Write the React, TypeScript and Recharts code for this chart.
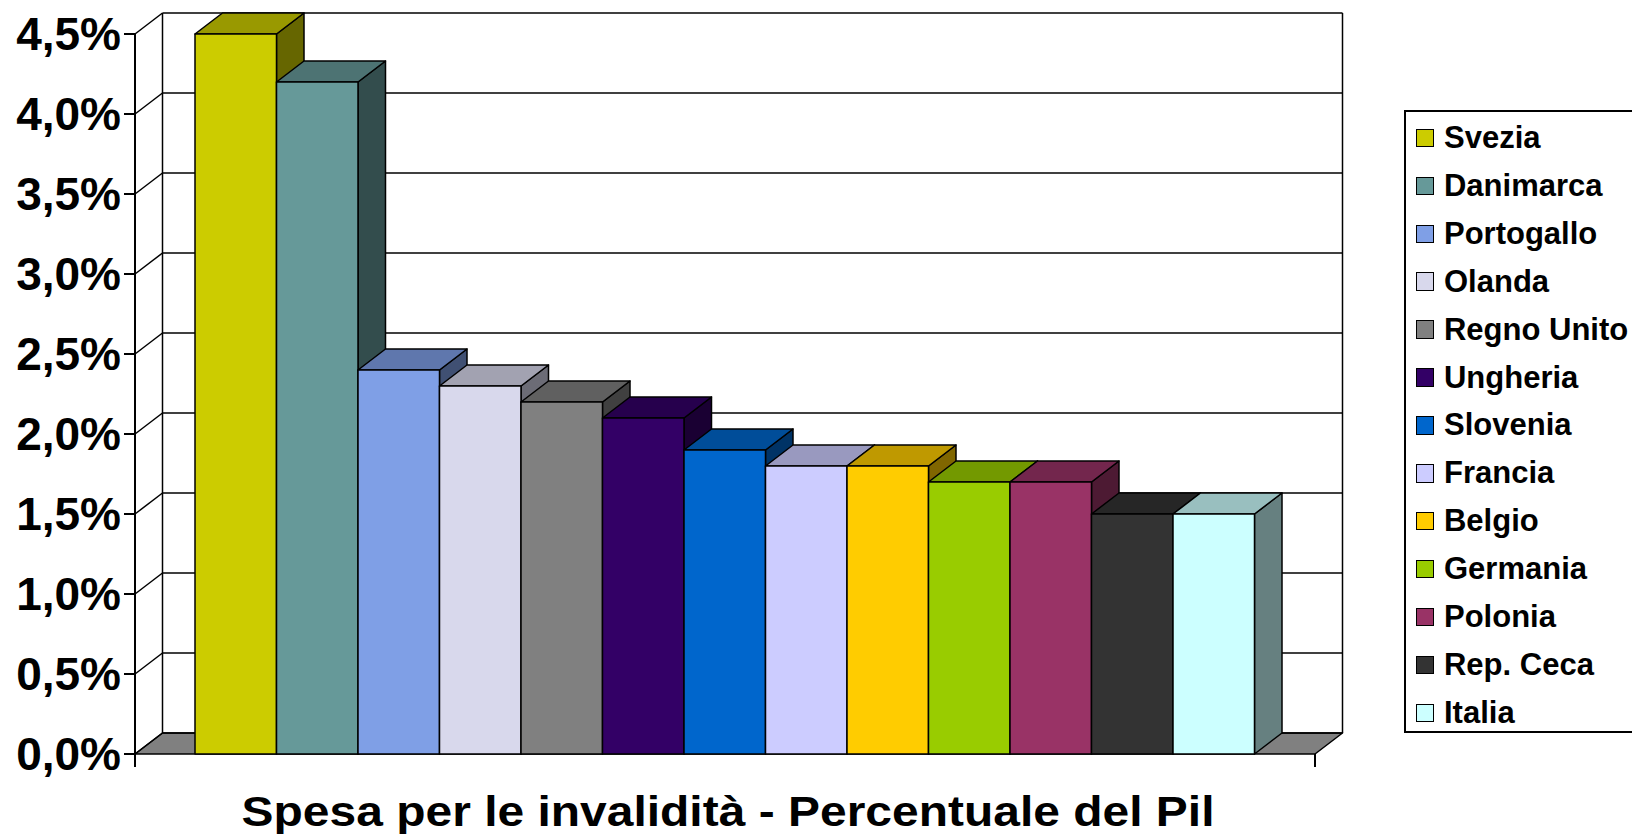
import React from 'react';
import { BarChart, Bar, XAxis, YAxis, CartesianGrid, Legend } from 'recharts';

// ---- data ----
const CATEGORY = 'Spesa per le invalidità - Percentuale del Pil';
const COUNTRIES = [
  'Svezia', 'Danimarca', 'Portogallo', 'Olanda', 'Regno Unito', 'Ungheria', 'Slovenia',
  'Francia', 'Belgio', 'Germania', 'Polonia', 'Rep. Ceca', 'Italia',
];
const VALUES = [4.5, 4.2, 2.4, 2.3, 2.2, 2.1, 1.9, 1.8, 1.8, 1.7, 1.7, 1.5, 1.5];
const Y_TICKS = [0, 0.5, 1, 1.5, 2, 2.5, 3, 3.5, 4, 4.5];

// ---- styles ----
const COLORS = [
  '#CCCC00', '#669999', '#7F9FE6', '#D8D8EC', '#808080', '#330066', '#0066CC',
  '#CCCCFF', '#FFCC00', '#99CC00', '#993366', '#333333', '#CCFFFF',
];
const DX = 27.5;
const DY = 21;
const FONT = '"Liberation Sans", Arial, Helvetica, sans-serif';

const row: Record<string, string | number> = { name: CATEGORY };
COUNTRIES.forEach((_, i) => {
  row[`s${i}`] = VALUES[i];
});
const data = [row];

const shade = (hex: string, f: number) => {
  const n = parseInt(hex.slice(1), 16);
  const r = Math.round(((n >> 16) & 255) * f);
  const g = Math.round(((n >> 8) & 255) * f);
  const b = Math.round((n & 255) * f);
  return `rgb(${r},${g},${b})`;
};

const makeShape = (color: string) => {
  const top = shade(color, 0.75);
  const side = shade(color, 0.5);
  return (p: any) => {
    const { x, y, width: w, height: h } = p;
    if (x == null || y == null || !w || h == null) return <g />;
    return (
      <g stroke="#000" strokeWidth={1.5} strokeLinejoin="round">
        <polygon
          points={`${x + w},${y} ${x + w + DX},${y - DY} ${x + w + DX},${y + h - DY} ${x + w},${y + h}`}
          fill={side}
        />
        <polygon
          points={`${x},${y} ${x + DX},${y - DY} ${x + w + DX},${y - DY} ${x + w},${y}`}
          fill={top}
        />
        <rect x={x} y={y} width={w} height={h} fill={color} />
      </g>
    );
  };
};

const renderGridLine = (p: any) => {
  const { x1, x2, y1, index } = p;
  const pts: number[] = Array.isArray(p.horizontalPoints) ? p.horizontalPoints : [];
  const bottom = p.y != null && p.height != null ? p.y + p.height : Math.max(...pts);
  const top = p.y != null ? p.y : Math.min(...pts);
  const isBottom = Math.abs(y1 - bottom) < 0.5;
  return (
    <g key={`gl-${index}`}>
      {isBottom && (
        <g stroke="#000" strokeWidth={1.5}>
          <polygon
            points={`${x1},${y1} ${x1 + DX},${y1 - DY} ${x2 + DX},${y1 - DY} ${x2},${y1}`}
            fill="#808080"
            strokeLinejoin="round"
          />
          <line x1={x1 + DX} y1={top - DY} x2={x1 + DX} y2={bottom - DY} />
          <line x1={x2 + DX} y1={top - DY} x2={x2 + DX} y2={bottom - DY} />
          <line x1={x1} y1={bottom} x2={x1} y2={bottom + 13} strokeWidth={2} />
          <line x1={x2} y1={bottom} x2={x2} y2={bottom + 13} strokeWidth={2} />
        </g>
      )}
      <line x1={x1} y1={y1} x2={x1 + DX} y2={y1 - DY} stroke="#000" strokeWidth={1.5} />
      <line x1={x1 + DX} y1={y1 - DY} x2={x2 + DX} y2={y1 - DY} stroke="#000" strokeWidth={1.5} />
    </g>
  );
};

const renderTitleTick = (p: any) => (
  <g transform={`translate(${p.x + 3},${p.y + 72})`}>
    <text
      textAnchor="middle"
      transform="scale(1.142,1)"
      fontSize={42}
      fontWeight="bold"
      fill="#000"
      fontFamily={FONT}
    >
      {p.payload.value}
    </text>
  </g>
);

const renderLegend = (props: any) => {
  const payload: any[] = (props.payload || []).slice();
  payload.sort((a, b) => COUNTRIES.indexOf(a.value) - COUNTRIES.indexOf(b.value));
  return (
    <div
      style={{
        position: 'relative',
        width: 260,
        height: 623,
        border: '2px solid #000',
        boxSizing: 'border-box',
        background: '#fff',
        fontFamily: FONT,
      }}
    >
      {payload.map((entry, i) => (
        <div
          key={entry.value}
          style={{
            position: 'absolute',
            left: 0,
            top: 2 + i * 47.9,
            height: 48,
            display: 'flex',
            alignItems: 'center',
            whiteSpace: 'nowrap',
          }}
        >
          <span
            style={{
              display: 'inline-block',
              width: 18.5,
              height: 18.5,
              marginLeft: 9.7,
              boxSizing: 'border-box',
              border: '1.5px solid #000',
              background: entry.color,
            }}
          />
          <span
            style={{
              marginLeft: 9.8,
              fontSize: 31,
              fontWeight: 'bold',
              lineHeight: '48px',
              color: '#000',
            }}
          >
            {entry.value}
          </span>
        </div>
      ))}
    </div>
  );
};

export default function App() {
  return (
    <div
      style={{
        position: 'absolute',
        left: 0,
        top: 0,
        width: 1632,
        height: 834,
        overflow: 'hidden',
        background: '#fff',
        fontFamily: FONT,
      }}
    >
      <BarChart
        width={1632}
        height={834}
        data={data}
        margin={{ top: 34, right: 317, bottom: 0, left: 0 }}
        barGap={0}
        barSize={81.5}
      >
        <CartesianGrid vertical={false} horizontal={renderGridLine} />
        <XAxis
          dataKey="name"
          height={80}
          axisLine={false}
          tickLine={false}
          tickSize={0}
          tickMargin={0}
          interval={0}
          tick={renderTitleTick}
        />
        <YAxis
          width={135}
          domain={[0, 4.5]}
          ticks={Y_TICKS}
          interval={0}
          tickFormatter={(v: number) => `${v.toFixed(1).replace('.', ',')}%`}
          tickSize={11}
          tickMargin={3}
          axisLine={{ stroke: '#000', strokeWidth: 2 }}
          tickLine={{ stroke: '#000', strokeWidth: 2 }}
          tick={{ fontSize: 46, fontWeight: 'bold', fill: '#000', fontFamily: FONT }}
        />
        <Legend
          layout="vertical"
          align="center"
          verticalAlign="middle"
          wrapperStyle={{ left: 1404, top: 110, width: 260, height: 623 }}
          content={renderLegend}
        />
        {COUNTRIES.map((c, i) => (
          <Bar
            key={c}
            dataKey={`s${i}`}
            name={c}
            fill={COLORS[i]}
            shape={makeShape(COLORS[i])}
            isAnimationActive={false}
          />
        ))}
      </BarChart>
    </div>
  );
}
